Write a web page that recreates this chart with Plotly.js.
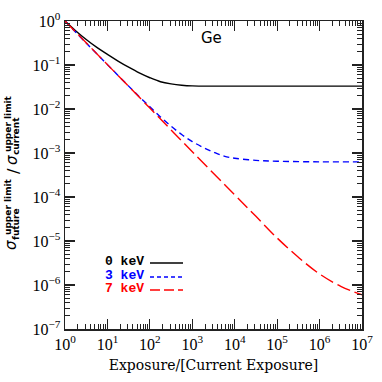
<!DOCTYPE html>
<html>
<head>
<meta charset="utf-8">
<script src="https://cdn.plot.ly/plotly-3.0.1.min.js"></script>
<style>
  html, body { margin: 0; padding: 0; background: #fff; }
  #chart { width: 382px; height: 382px; }
</style>
</head>
<body>
<div id="chart"></div>
<script>
// values (exposure ratio vs. limit ratio)
const exp0 = [1, 1.778, 3.162, 5.623, 10, 17.78, 31.62, 56.23, 100, 177.8, 316.2, 562.3, 1000, 3162, 1e4, 1e5, 1e6, 1e7];
const sig0 = [1, 0.603, 0.380, 0.251, 0.174, 0.123, 0.0891, 0.0661, 0.0513, 0.0417, 0.0372, 0.0347, 0.0335, 0.0331, 0.0331, 0.0331, 0.0331, 0.0331];

const exp3 = [1, 3.162, 10, 31.62, 56.23, 100, 177.8, 316.2, 562.3, 1000, 1778, 3162, 5623, 1e4, 31620, 1e5, 1e6, 1e7];
const sig3 = [1, 0.316, 0.102, 0.0331, 0.0191, 0.0112, 0.0066, 0.00407, 0.00263, 0.00182, 0.00135, 0.00105, 0.00085, 0.00076, 0.00068, 0.00065, 0.00063, 0.00063];

const exp7 = [1, 10, 100, 1000, 1e4, 31620, 1e5, 316200, 1e6, 3162000, 1e7];
const sig7 = [1, 0.102, 0.0105, 0.00107, 1.12e-4, 3.63e-5, 1.17e-5, 4.27e-6, 1.78e-6, 9.3e-7, 6.0e-7];

const labels = ['0 keV', '3 keV', '7 keV'];
const colors = ['#000000', '#0000ff', '#ff0000'];

const xTicks = [1, 10, 100, 1e3, 1e4, 1e5, 1e6, 1e7];
const xTickText = ['10<sup>0</sup>', '10<sup>1</sup>', '10<sup>2</sup>', '10<sup>3</sup>', '10<sup>4</sup>', '10<sup>5</sup>', '10<sup>6</sup>', '10<sup>7</sup>'];
const yTicks = [1e-7, 1e-6, 1e-5, 1e-4, 1e-3, 1e-2, 0.1, 1];
const yTickText = ['10<sup>−7</sup>', '10<sup>−6</sup>', '10<sup>−5</sup>', '10<sup>−4</sup>', '10<sup>−3</sup>', '10<sup>−2</sup>', '10<sup>−1</sup>', '10<sup>0</sup>'];

function minorVals(decades) {
  const out = [];
  decades.forEach(d => { for (let k = 2; k <= 9; k++) out.push(k * d); });
  return out;
}

// plot box in pixels, for placing the text pieces
const L = 65, R = 362, T = 21, B = 329;
const px = x => (x - L) / (R - L);
const py = y => (B - y) / (B - T);

const traces = [
  { x: exp0, y: sig0, mode: 'lines', line: { color: colors[0], width: 1.4, shape: 'spline' } },
  { x: exp3, y: sig3, mode: 'lines', line: { color: colors[1], width: 1.4, dash: '6px,4px', shape: 'spline' } },
  { x: exp7, y: sig7, mode: 'lines', line: { color: colors[2], width: 1.4, dash: '14px,5px', shape: 'spline' } }
];

const serif = "'Liberation Serif', 'Times New Roman', serif";
const tickFont = { family: serif, size: 16, color: '#000' };

const axisBase = {
  type: 'log', tickmode: 'array',
  ticks: 'inside', ticklen: 10, tickwidth: 1.2, tickcolor: '#222',
  showline: true, linecolor: '#222', linewidth: 1.5, mirror: 'ticks',
  showgrid: false, zeroline: false, tickfont: tickFont
};

const ann = [];
function txt(s, x, y, size, opts) {
  ann.push(Object.assign({
    text: s, x: px(x), y: py(y), xref: 'paper', yref: 'paper',
    showarrow: false, xanchor: 'center', yanchor: 'middle',
    font: { family: "'DejaVu Sans', sans-serif", size: size, color: '#000' }
  }, opts || {}));
}

// "Ge"
txt('Ge', 211, 38, 15);

// rotated y title pieces
const rot = { textangle: -90 };
txt('<i>σ</i>', 11, 245, 15, rot);
txt('<b>upper limit</b>', 8, 207, 9, rot);
txt('<b>future</b>', 16, 224, 9, rot);
txt('/', 13, 171, 16, rot);
txt('<i>σ</i>', 12, 160, 15, rot);
txt('<b>upper limit</b>', 8, 124, 9, rot);
txt('<b>current</b>', 16, 136, 9, rot);

// legend text and samples
const legY = [261, 275, 288];
const shapes = [];
const dashes = ['solid', '4px,3px', '10px,4px'];
labels.forEach((lab, i) => {
  ann.push({
    text: '<b>' + lab + '</b>', x: px(146), y: py(legY[i]), xref: 'paper', yref: 'paper',
    showarrow: false, xanchor: 'right', yanchor: 'middle',
    font: { family: "'Liberation Mono', 'Courier New', monospace", size: 13, color: colors[i] }
  });
  shapes.push({
    type: 'line', xref: 'paper', yref: 'paper',
    x0: px(150), x1: px(183), y0: py(legY[i] + 2), y1: py(legY[i] + 2),
    line: { color: colors[i], width: 1.4, dash: dashes[i] }
  });
});

const layout = {
  width: 382, height: 382,
  margin: { l: L, r: 382 - R, t: T, b: 382 - B },
  paper_bgcolor: '#fff', plot_bgcolor: '#fff',
  showlegend: false,
  xaxis: Object.assign({}, axisBase, {
    range: [0, 7], tickvals: xTicks, ticktext: xTickText,
    minor: { tickmode: 'array', tickvals: minorVals([1, 10, 100, 1e3, 1e4, 1e5, 1e6]), ticks: 'inside', ticklen: 5, tickwidth: 1, tickcolor: '#222', showgrid: false },
    title: { text: 'Exposure/[Current Exposure]', font: { family: "'DejaVu Serif', serif", size: 14, color: '#000' }, standoff: 8 }
  }),
  yaxis: Object.assign({}, axisBase, {
    range: [-7, 0], tickvals: yTicks, ticktext: yTickText,
    minor: { tickmode: 'array', tickvals: minorVals([1e-7, 1e-6, 1e-5, 1e-4, 1e-3, 1e-2, 0.1]), ticks: 'inside', ticklen: 5, tickwidth: 1, tickcolor: '#222', showgrid: false }
  }),
  annotations: ann,
  shapes: shapes
};

Plotly.newPlot('chart', traces, layout, { staticPlot: true });
</script>
</body>
</html>
